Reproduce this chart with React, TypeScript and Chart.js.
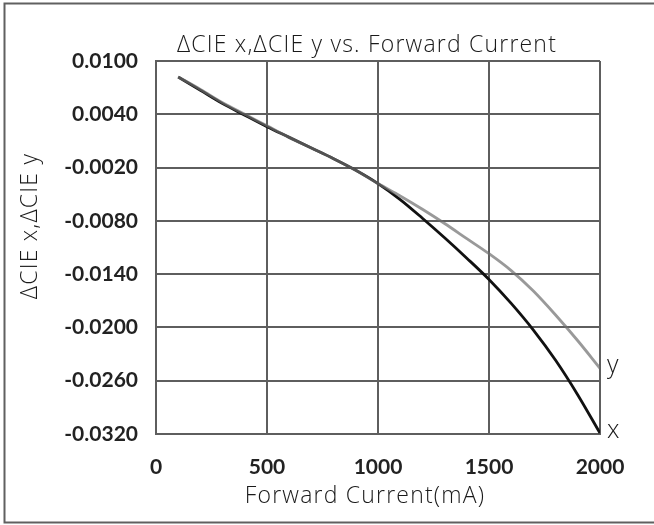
import React, { useEffect, useRef } from "react";
import { Chart, registerables } from "chart.js";

Chart.register(...registerables);

const currents = [100, 200, 300, 400, 500, 600, 700, 800, 900, 1000, 1100, 1200, 1300, 1400, 1500, 1600, 1700, 1800, 1900, 2000];
const deltaCieX = [0.0082, 0.0067, 0.0052, 0.0039, 0.0026, 0.0014, 0.0002, -0.0010, -0.0023, -0.0038, -0.0056, -0.0077, -0.0099, -0.0122, -0.0146, -0.0173, -0.0203, -0.0237, -0.0276, -0.0319];
const deltaCieY = [0.0082, 0.0068, 0.0053, 0.0040, 0.0027, 0.0014, 0.0002, -0.0010, -0.0023, -0.0038, -0.0052, -0.0067, -0.0083, -0.0100, -0.0117, -0.0136, -0.0159, -0.0186, -0.0215, -0.0246];
const xTickValues = [0, 500, 1000, 1500, 2000];
const yTickValues = [0.01, 0.004, -0.002, -0.008, -0.014, -0.02, -0.026, -0.032];
const seriesNames = ["x", "y"];
const chartTitle = "\u0394CIE x,\u0394CIE y vs. Forward Current";
const xAxisTitle = "Forward Current(mA)";
const yAxisTitle = "\u0394CIE x,\u0394CIE y";

const LIGHT_FONT = "300 23px 'Open Sans'";
const TICK_FONT = { family: "Lato", size: 21, weight: "bold" as const };

const textPlugin = {
  id: "customText",
  afterDraw(chart: any) {
    const ctx = chart.ctx;
    ctx.save();
    // outer frame (left, top, bottom)
    ctx.strokeStyle = "#606060";
    ctx.lineWidth = 2;
    ctx.beginPath();
    ctx.moveTo(654, 3.5);
    ctx.lineTo(4.5, 3.5);
    ctx.lineTo(4.5, 522.5);
    ctx.lineTo(654, 522.5);
    ctx.stroke();

    ctx.fillStyle = "#1a1a1a";
    ctx.font = LIGHT_FONT;
    try {
      ctx.letterSpacing = "1.2px";
    } catch (e) {}
    ctx.textAlign = "center";
    ctx.textBaseline = "middle";
    ctx.fillText(chartTitle, 367, 45);
    ctx.fillText(xAxisTitle, 365, 496);

    ctx.save();
    ctx.translate(30, 226);
    ctx.rotate(-Math.PI / 2);
    ctx.fillText(yAxisTitle, 0, 0);
    ctx.restore();

    try {
      ctx.letterSpacing = "0px";
    } catch (e) {}
    ctx.font = "300 25px 'Open Sans'";
    ctx.textAlign = "left";
    chart.data.datasets.forEach((ds: any, i: number) => {
      const meta = chart.getDatasetMeta(i);
      const pt = meta.data[meta.data.length - 1];
      if (pt) ctx.fillText(ds.label, pt.x + 7, pt.y - 2);
    });
    ctx.restore();
  },
};

export default function App() {
  const ref = useRef<HTMLCanvasElement | null>(null);

  useEffect(() => {
    if (!ref.current) return;
    const chart = new Chart(ref.current, {
      type: "line",
      data: {
        labels: currents,
        datasets: [
          {
            label: seriesNames[0],
            data: currents.map((c, i) => ({ x: c, y: deltaCieX[i] })),
            borderColor: "#111111",
            borderWidth: 2.8,
            pointRadius: 0,
            cubicInterpolationMode: "monotone",
            order: 2,
          },
          {
            label: seriesNames[1],
            data: currents.map((c, i) => ({ x: c, y: deltaCieY[i] })),
            borderColor: "rgba(110,110,110,0.7)",
            borderWidth: 2.8,
            pointRadius: 0,
            cubicInterpolationMode: "monotone",
            order: 1,
          },
        ],
      },
      options: {
        animation: false,
        responsive: false,
        devicePixelRatio: 1,
        layout: { padding: { left: 0, top: 61, right: 54, bottom: 0 } },
        plugins: { legend: { display: false }, tooltip: { enabled: false }, title: { display: false } },
        scales: {
          x: {
            type: "linear",
            min: 0,
            max: 2000,
            afterBuildTicks: (s: any) => {
              s.ticks = xTickValues.map((v) => ({ value: v }));
            },
            afterFit: (s: any) => {
              s.height = 91;
            },
            grid: { color: "#5e5e5e", lineWidth: 2, drawTicks: false },
            border: { color: "#5e5e5e", width: 2 },
            ticks: {
              font: TICK_FONT,
              color: "#222",
              padding: 21,
              maxRotation: 0,
              callback: (v: any) => String(v),
            },
          },
          y: {
            type: "linear",
            min: -0.032,
            max: 0.01,
            afterBuildTicks: (s: any) => {
              s.ticks = yTickValues.map((v) => ({ value: v }));
            },
            afterFit: (s: any) => {
              s.width = 156;
            },
            grid: { color: "#5e5e5e", lineWidth: 2, drawTicks: false },
            border: { color: "#5e5e5e", width: 2 },
            ticks: {
              font: TICK_FONT,
              color: "#222",
              padding: 18,
              callback: (v: any) => Number(v).toFixed(4),
            },
          },
        },
      },
      plugins: [textPlugin],
    });
    return () => chart.destroy();
  }, []);

  return (
    <div style={{ position: "absolute", left: 0, top: 0, width: 654, height: 525, background: "#fff" }}>
      <canvas ref={ref} width={654} height={525} style={{ display: "block" }} />
    </div>
  );
}
